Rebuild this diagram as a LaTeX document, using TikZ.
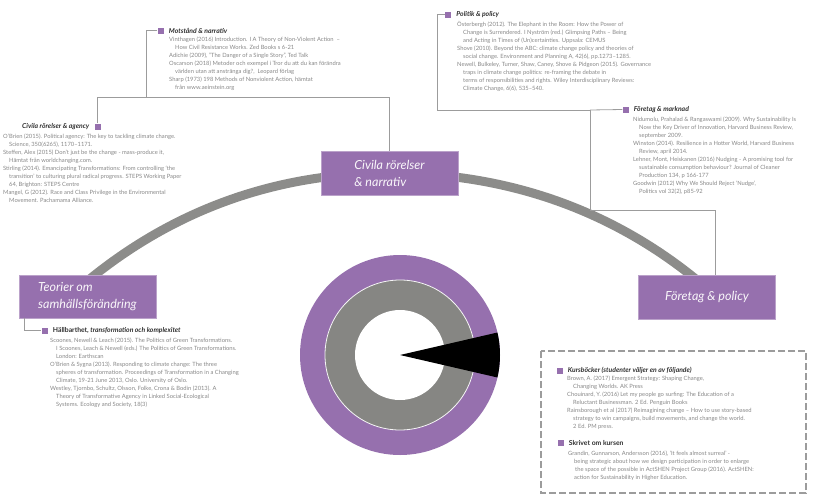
\documentclass[tikz,border=0pt]{standalone}
\usepackage{fontspec}
\setmainfont{Lato}
\usetikzlibrary{positioning}
\usetikzlibrary{backgrounds}

\definecolor{mapviolet}{HTML}{9670AE}
\definecolor{ringgray}{HTML}{868683}
\definecolor{arcgray}{HTML}{8C8C8A}
\definecolor{linegray}{HTML}{9C9C9C}
\definecolor{reftext}{HTML}{878787}
\definecolor{headtext}{HTML}{2E2E2E}

\newcommand{\refsize}{\fontsize{5.8}{8}\selectfont}
\newcommand{\hang}{\hspace*{6pt}}

\begin{document}
\begin{tikzpicture}[
x=1pt, y=-1pt,
topic/.style={
    fill=mapviolet, draw=mapviolet!65!white, line width=0.6pt,
    text=white!94!mapviolet, font=\fontsize{12.5}{17}\selectfont\itshape,
    align=left, inner sep=0pt, minimum width=137pt, minimum height=44pt
},
marker/.style={fill=mapviolet, minimum size=6pt, inner sep=0pt},
heading/.style={
    anchor=west, inner sep=0pt, text=headtext,
    font=\fontsize{6.8}{8}\selectfont\bfseries\itshape
},
refs/.style={anchor=north west, inner sep=0pt, text=reftext, align=left, font=\refsize},
branch/.style={draw=linegray, line width=0.8pt},
trunk/.style={draw=arcgray, line width=9pt}
]
\useasboundingbox (0,0) rectangle (823,496);

% the three topics
\node[topic] (civila) at (389.5,173) {Civila rörelser\\\& narrativ};
\node[topic, minimum height=43pt] (teorier) at (87.5,296.5) {Teorier om\\samhällsförändring};
\node[topic] (foretag) at (707,297) {Företag \& policy};

\begin{scope}[on background layer]
\draw[trunk] ([xshift=-4pt,yshift=-9.5pt]teorier.north)
    to[out=40,in=180,looseness=0.9] (civila.center)
    to[out=0,in=140,looseness=0.9] ([xshift=-5pt,yshift=-9.5pt]foretag.north);
\end{scope}

% Motstånd & narrativ
\node[marker] (motsq) at (160.5,30.5) {};
\node[heading, right=5pt of motsq] (mothead) {Motstånd \& narrativ};
\node[refs] (motrefs) at (169,36.5) {%
Vinthagen (2016) Introduction. I A Theory of Non-Violent Action\ \ –\\
\hang How Civil Resistance Works. Zed Books s 6-21\\
Adichie (2009), ”The Danger of a Single Story”, Ted Talk\\
Oscarson (2018) Metoder och exempel i Tror du att du kan förändra\\
\hang världen utan att anstränga dig?,\ \ Leopard förlag\\
Sharp (1973) 198 Methods of Nonviolent Action, hämtat\\
\hang från www.aeinstein.org};

% Civila rörelser & agency
\node[marker] (agsq) at (97.5,126.5) {};
\node[heading, left=5pt of agsq] (aghead) {Civila rörelser \& agency};
\node[refs] (agrefs) at (3,133.5) {%
O’Brien (2015). Political agency: The key to tackling climate change.\\
\hang Science, 350(6265), 1170–1171.\\
Steffen, Alex (2015) Don’t just be the change - mass-produce it,\\
\hang Hämtat från worldchanging.com.\\
Stirling (2014). Emancipating Transformations: From controlling ‘the\\
\hang transition’ to culturing plural radical progress. STEPS Working Paper\\
\hang 64, Brighton: STEPS Centre\\
Mangel, G (2012). Race and Class Privilege in the Environmental\\
\hang Movement. Pachamama Alliance.};

\coordinate (civbend) at (146,97);
\draw[branch] (motsq.west) -| (civbend) -| (civila.north);
\draw[branch] (agsq.north) |- (civbend);

% Politik & policy
\node[marker] (polsq) at (448,14.5) {};
\node[heading, right=5pt of polsq] (polhead) {Politik \& policy};
\node[refs] (polrefs) at (457,21) {%
Österbergh (2012). The Elephant in the Room: How the Power of\\
\hang Change is Surrendered. I Nyström (red.) Glimpsing Paths – Being\\
\hang and Acting in Times of (Un)certainties. Uppsala: CEMUS\\
Shove (2010). Beyond the ABC: climate change policy and theories of\\
\hang social change. Environment and Planning A, 42(6), pp.1273–1285.\\
Newell, Bulkeley, Turner, Shaw, Caney, Shove \& Pidgeon (2015). Governance\\
\hang traps in climate change politics: re-framing the debate in\\
\hang terms of responsibilities and rights. Wiley Interdisciplinary Reviews:\\
\hang Climate Change, 6(6), 535–540.};

% Företag & marknad
\node[marker] (fmsq) at (625.5,109.5) {};
\node[heading, right=5pt of fmsq] (fmhead) {Företag \& marknad};
\node[refs] (fmrefs) at (633,116.5) {%
Nidumolu, Prahalad \& Rangaswami (2009). Why Sustainability Is\\
\hang Now the Key Driver of Innovation, Harvard Business Review,\\
\hang september 2009.\\
Winston (2014). Resilience in a Hotter World, Harvard Business\\
\hang Review, april 2014.\\
Lehner, Mont, Heiskanen (2016) Nudging - A promising tool for\\
\hang sustainable consumption behaviour? Journal of Cleaner\\
\hang Production 134, p 166-177\\
Goodwin (2012) Why We Should Reject ‘Nudge’,\\
\hang Politics vol 32(2), p85-92};

\coordinate (polbend) at (437,110);
\coordinate (fmjoin) at (590,110);
\coordinate (fpbend) at (590,210);
\draw[branch] (polsq.west) -| (polbend) -- (fmjoin) -- (fpbend) -| ([xshift=8pt]foretag.north);
\draw[branch] (fmsq.west) -- (fmjoin);

% Hällbarthet
\node[marker] (hasq) at (44.5,330.5) {};
\node[heading, right=5pt of hasq] (hahead) {{\upshape Hällbarthet,} transformation och komplexitet};
\node[refs] (harefs) at (50,337.5) {%
Scoones, Newell \& Leach (2015). The Politics of Green Transformations.\\
\hang I Scoones, Leach \& Newell (eds.) The Politics of Green Transformations.\\
\hang London: Earthscan\\
O’Brien \& Sygna (2013). Responding to climate change: The three\\
\hang spheres of transformation. Proceedings of Transformation in a Changing\\
\hang Climate, 19-21 June 2013, Oslo. University of Oslo.\\
Westley, Tjornbo, Schultz, Olsson, Folke, Crona \& Bodin (2013). A\\
\hang Theory of Transformative Agency in Linked Social-Ecological\\
\hang Systems. Ecology and Society, 18(3)};

\draw[branch] ([xshift=6pt]teorier.south west) |- (hasq.west);

% course literature
\draw[draw=linegray, line width=2.6pt, dash pattern=on 7pt off 3pt] (541,351) rectangle (806,493);

\node[marker] (kbsq) at (559.5,370.5) {};
\node[heading, right=5pt of kbsq] (kbhead) {Kursböcker (studenter väljer en av följande)};
\node[refs] (kbrefs) at (567,375.5) {%
Brown, A. (2017) Emergent Strategy: Shaping Change,\\
\hang Changing Worlds. AK Press\\
Chouinard, Y. (2016) Let my people go surfing: The Education of a\\
\hang Reluctant Businessman. 2 Ed. Penguin Books\\
Rainsborough et al (2017) Reimagining change – How to use story-based\\
\hang strategy to win campaigns, build movements, and change the world.\\
\hang 2 Ed. PM press.};

\node[marker] (sksq) at (560.5,442.5) {};
\node[heading, right=5pt of sksq] (skhead) {\upshape Skrivet om kursen};
\node[refs] (skrefs) at (568,450.5) {%
Grandin, Gunnarson, Andersson (2016), ‘It feels almost surreal’ -\\
\hang being strategic about how we design participation in order to enlarge\\
\hspace*{7pt}the space of the possible in ActSHEN Project Group (2016). ActSHEN:\\
\hang action for Sustainability in Higher Education.};

% donut
\coordinate (donut) at (400,355);
\fill[mapviolet] (donut) circle[radius=100pt];
\filldraw[fill=ringgray, draw=white!92!ringgray, line width=0.8pt] (donut) circle[radius=75pt];
\fill[white] (donut) circle[radius=45pt];
\fill[black] (donut) -- ++(13:100pt) arc[start angle=13, end angle=-13, radius=100pt] -- cycle;
\end{tikzpicture}
\end{document}
